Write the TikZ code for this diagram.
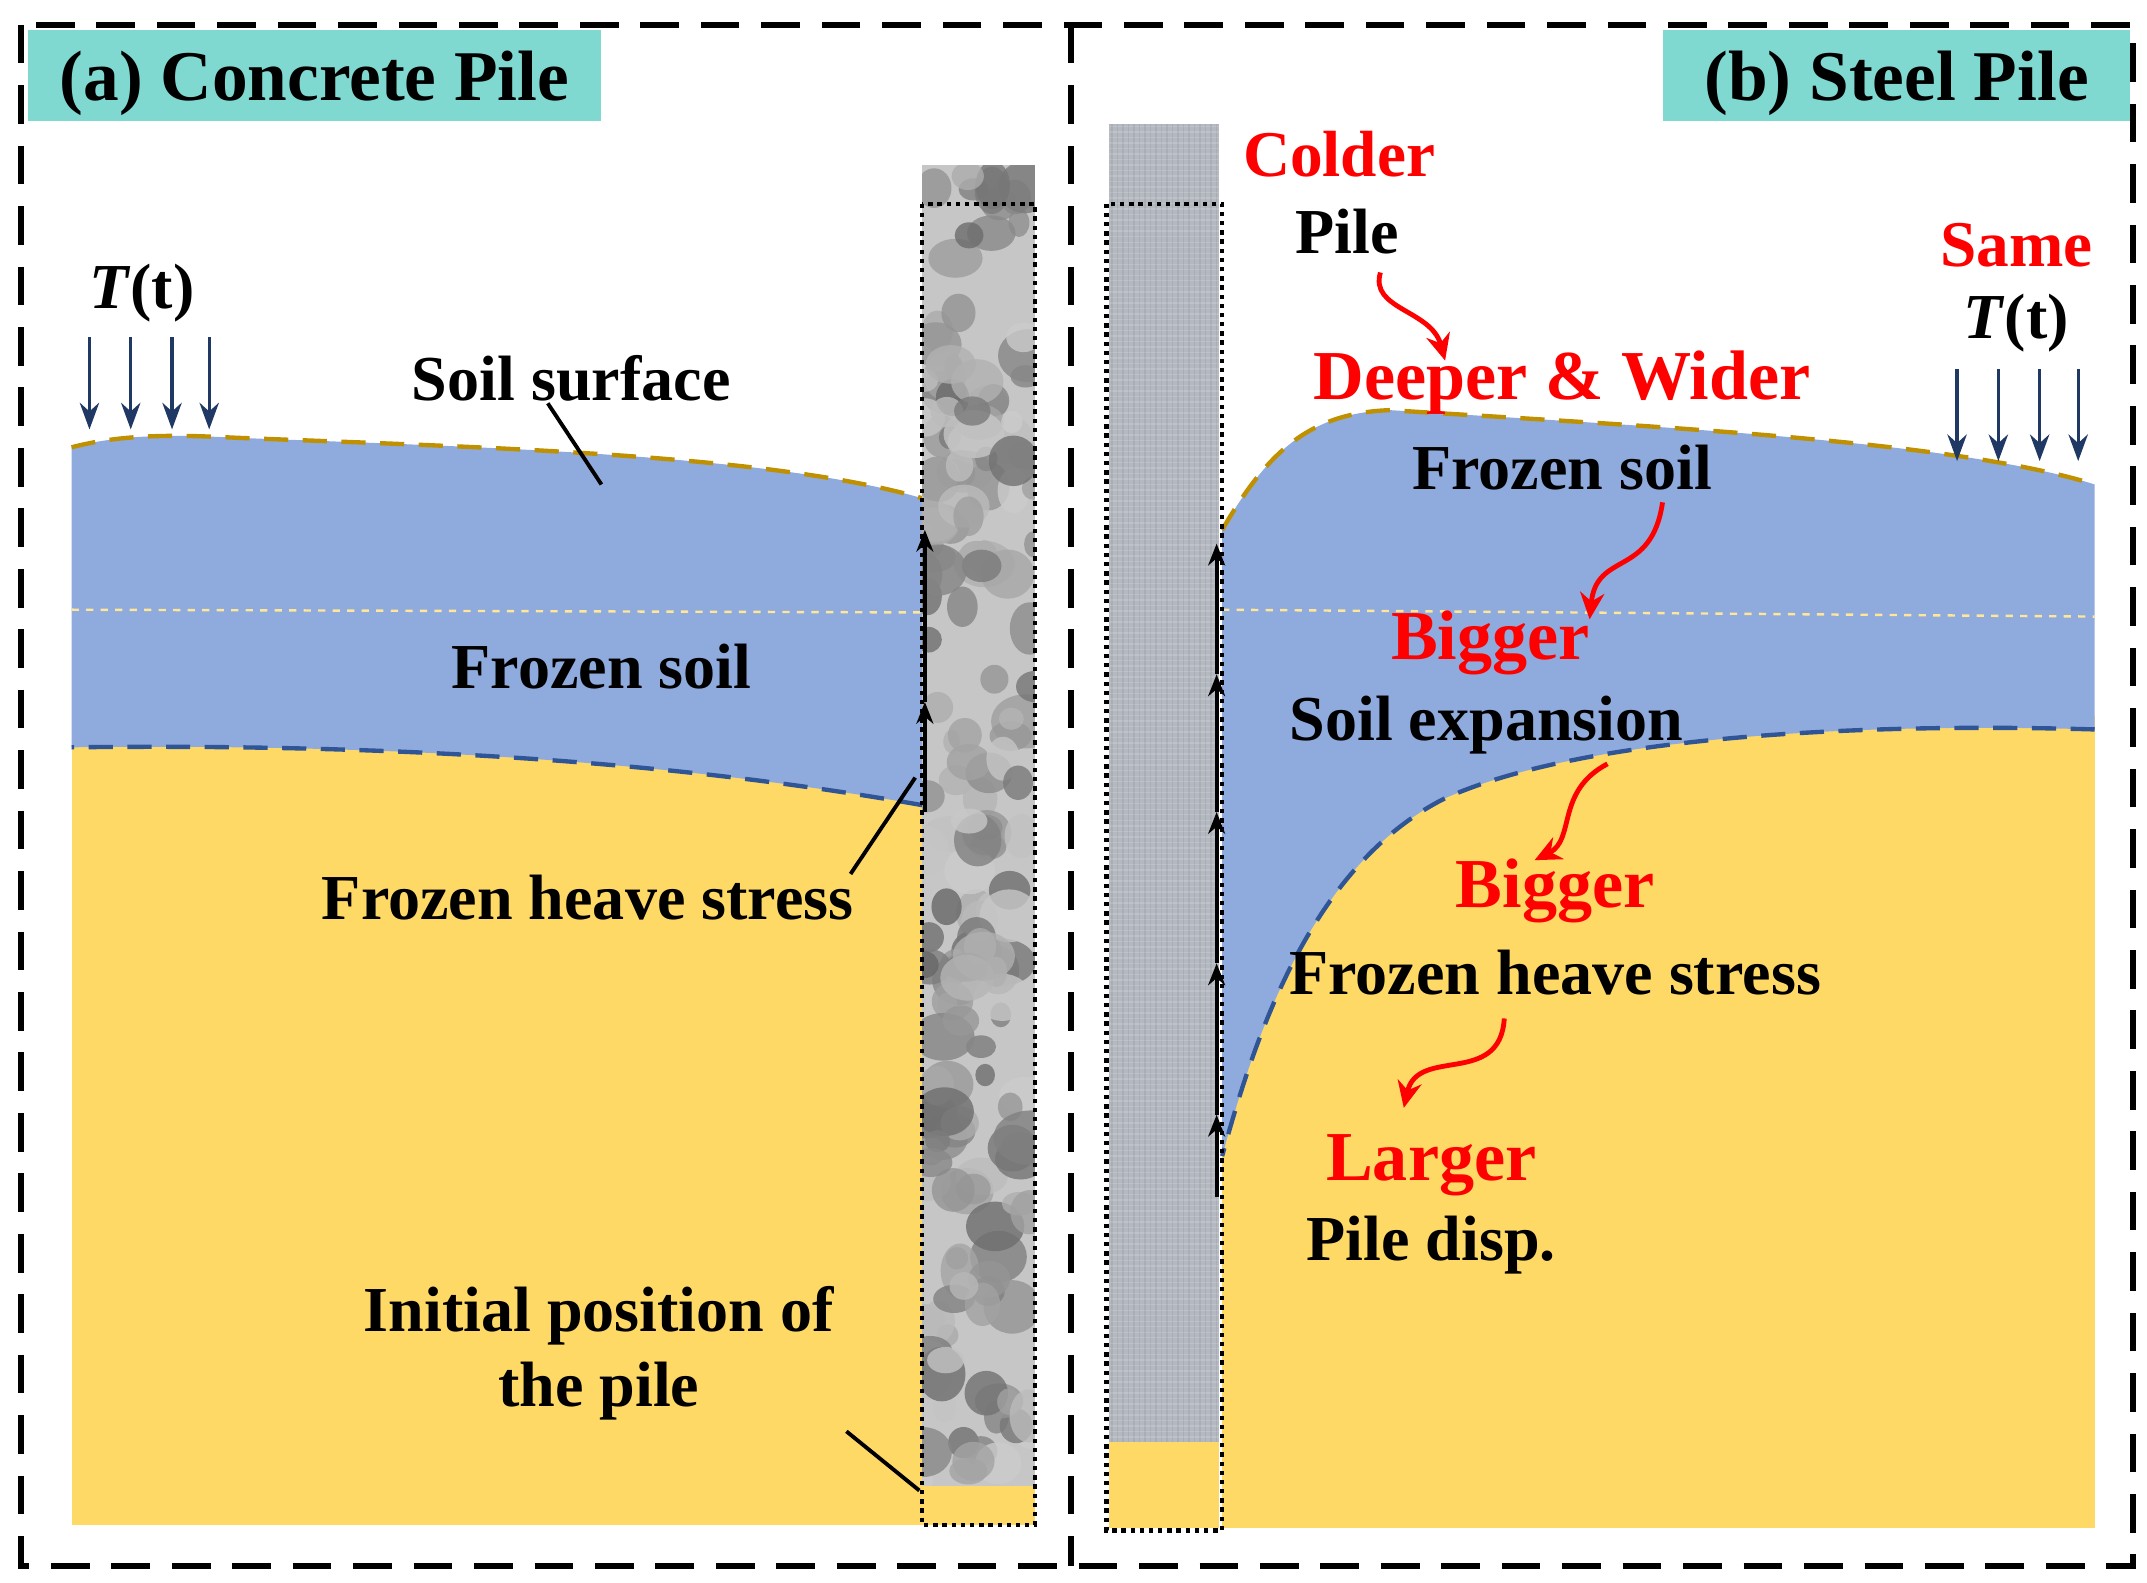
\documentclass[tikz,border=0pt]{standalone}
\usepackage{fontspec}
\setmainfont{Liberation Serif}
\usetikzlibrary{arrows.meta}
\definecolor{frz}{HTML}{8FAADC}
\definecolor{ylw}{HTML}{FFD966}
\definecolor{teal}{HTML}{7FD9D1}
\definecolor{navy}{HTML}{1F3864}
\definecolor{surf}{HTML}{BF9000}
\definecolor{bnd}{HTML}{2F5597}
\definecolor{ltd}{HTML}{FFE699}
\definecolor{steel}{HTML}{B4B8C0}
\tikzset{
 lbl/.style={font=\bfseries\fontsize{26.5}{31}\selectfont, inner sep=1pt},
 rtxt/.style={lbl, text=red, font=\bfseries\fontsize{27}{31}\selectfont},
 title/.style={font=\bfseries\fontsize{29.5}{34}\selectfont, fill=teal, inner sep=0pt, minimum height=1.32cm, text depth=0pt},
 down/.style={navy, line width=1.4pt, -{Stealth[length=11pt,width=8pt]}},
 up/.style={black, line width=1.6pt, -{Stealth[length=9pt,width=7pt]}},
 redarr/.style={draw=red, line width=2pt, -{Stealth[length=11pt,width=10pt]}},
 lead/.style={black, line width=1.6pt},
}
\begin{document}
\begin{tikzpicture}[x=0.02cm,y=-0.02cm]
\useasboundingbox (0,0) rectangle (1560,1150);
% ----- left panel
\fill[ylw] (52,530) rectangle (670,1108);
\fill[frz] (52,325) .. controls (90,315) and (130,316) .. (170,318) .. controls (350,325) and (560,330) .. (670,362) -- (670,585) .. controls (500,555) and (300,540) .. (52,543) -- cycle;
\draw[surf, line width=1.8pt, dash pattern=on 10pt off 6pt] (52,325) .. controls (90,315) and (130,316) .. (170,318) .. controls (350,325) and (560,330) .. (670,362);
\draw[bnd, line width=1.8pt, dash pattern=on 10pt off 6pt] (670,585) .. controls (500,555) and (300,540) .. (52,543);
\draw[ltd, dashed, line width=1pt] (52,443) -- (670,445);
% concrete pile
\begin{scope}
\clip (670,120) rectangle (752,1080);
\fill[gray!45] (670,120) rectangle (752,1080);
\pgfmathsetseed{11}
\foreach \i in {1,...,180}{
  \pgfmathsetmacro{\xx}{670+82*rnd}
  \pgfmathsetmacro{\yy}{120+960*rnd}
  \pgfmathsetmacro{\rr}{8+12*rnd}
  \pgfmathsetmacro{\gg}{20+40*rnd}
  \pgfmathsetmacro{\sx}{0.7+0.8*rnd}
  \fill[black!\gg, opacity=0.8] (\xx,\yy) ellipse[x radius=\rr*\sx, y radius=\rr];
}
\end{scope}
\fill[ylw] (670,1080) rectangle (752,1108);
\draw[black, line width=1.8pt, dotted] (670,148) rectangle (752,1108);
\coordinate (la0) at (672,590); \coordinate (la1) at (672,510); \coordinate (la2) at (672,385);
\draw[up] (la0) -- (la1); \draw[up] (la1) -- (la2);
\node[lbl] (tl) at (103,213) {\textit{T}(t)};
\foreach \x/\n in {65/a,95/b,125/c,152/d}{\coordinate (s\n) at (\x,245); \coordinate (e\n) at (\x,312); \draw[down] (s\n) -- (e\n);}
\node[lbl] (ss) at (415,275) {Soil surface};
\coordinate (ssA) at (398,293); \coordinate (ssB) at (437,352); \draw[lead] (ssA) -- (ssB);
\node[lbl] (fs1) at (437,484) {Frozen soil};
\node[lbl] (fh1) at (427,652) {Frozen heave stress};
\coordinate (fhA) at (618,635); \coordinate (fhB) at (665,565); \draw[lead] (fhA) -- (fhB);
\node[lbl, align=center] (ip) at (435,983) {Initial position of\\the pile};
\coordinate (ipA) at (615,1040); \coordinate (ipB) at (668,1083); \draw[lead] (ipA) -- (ipB);
% ----- right panel
\fill[ylw] (888,520) rectangle (1522,1110);
\fill[frz] (888,385) .. controls (920,330) and (950,300) .. (1010,298) .. controls (1200,310) and (1420,320) .. (1522,352) -- (1522,530) .. controls (1350,525) and (1150,535) .. (1050,580) .. controls (950,630) and (910,760) .. (888,840) -- cycle;
\draw[surf, line width=1.8pt, dash pattern=on 10pt off 6pt] (888,385) .. controls (920,330) and (950,300) .. (1010,298) .. controls (1200,310) and (1420,320) .. (1522,352);
\draw[bnd, line width=1.8pt, dash pattern=on 10pt off 6pt] (1522,530) .. controls (1350,525) and (1150,535) .. (1050,580) .. controls (950,630) and (910,760) .. (888,840);
\draw[ltd, dashed, line width=1pt] (888,443) -- (1522,448);
% steel pile
\fill[steel] (806,90) rectangle (886,1048);
\begin{scope}
\clip (806,90) rectangle (886,1048);
\foreach \y in {92,96,...,1048}{\draw[white, opacity=0.15, line width=0.6pt] (806,\y) -- (886,\y);}
\foreach \x in {808,812,...,886}{\draw[black, opacity=0.06, line width=0.6pt] (\x,90) -- (\x,1048);}
\end{scope}
\fill[ylw] (806,1048) rectangle (886,1110);
\draw[black, line width=1.8pt, dotted] (804,148) rectangle (888,1112);
\foreach \a/\b in {870/810,810/700,700/590,590/490,490/395}{\coordinate (p\a) at (884,\a); \coordinate (q\a) at (884,\b); \draw[up] (p\a) -- (q\a);}
\node[rtxt] (cold) at (973,112) {Colder};
\node[lbl] (pile) at (979,168) {Pile};
\node[rtxt, font=\bfseries\fontsize{29}{33}\selectfont] (dw) at (1135,278) {Deeper \& Wider};
\node[lbl] (fs2) at (1135,340) {Frozen soil};
\node[rtxt, font=\bfseries\fontsize{29}{33}\selectfont] (bg1) at (1083,467) {Bigger};
\node[lbl] (se) at (1080,527) {Soil expansion};
\node[rtxt, font=\bfseries\fontsize{29}{33}\selectfont] (bg2) at (1130,647) {Bigger};
\node[lbl] (fh2) at (1130,707) {Frozen heave stress};
\node[rtxt, font=\bfseries\fontsize{29}{33}\selectfont] (lg) at (1040,847) {Larger};
\node[lbl] (pd) at (1040,905) {Pile disp.};
\node[rtxt] (same) at (1465,178) {Same};
\node[lbl] (tr) at (1465,235) {\textit{T}(t)};
\foreach \x/\n in {1422/a,1452/b,1482/c,1510/d}{\coordinate (r\n) at (\x,268); \coordinate (t\n) at (\x,335); \draw[down] (r\n) -- (t\n);}
\coordinate (c1) at (1003,198); \coordinate (c2) at (1050,262);
\draw[redarr] (c1) .. controls (995,225) and (1040,225) .. (c2);
\coordinate (c3) at (1208,365); \coordinate (c4) at (1155,450);
\draw[redarr] (c3) .. controls (1200,420) and (1160,400) .. (c4);
\coordinate (c5) at (1168,555); \coordinate (c6) at (1115,625);
\draw[redarr] (c5) .. controls (1130,575) and (1145,610) .. (c6);
\coordinate (c7) at (1093,740); \coordinate (c8) at (1020,805);
\draw[redarr] (c7) .. controls (1090,790) and (1030,760) .. (c8);
% ----- frame and titles
\draw[black, line width=2.4pt, dash pattern=on 16pt off 9pt] (15,18) rectangle (1550,1138);
\coordinate (m1) at (778,18); \coordinate (m2) at (778,1138);
\draw[black, line width=2.4pt, dash pattern=on 16pt off 9pt] (m1) -- (m2);
\node[title, minimum width=8.34cm] (ta) at (228.5,55) {(a) Concrete Pile};
\node[title, minimum width=6.8cm] (tb) at (1378,55) {(b) Steel Pile};
\end{tikzpicture}
\end{document}
